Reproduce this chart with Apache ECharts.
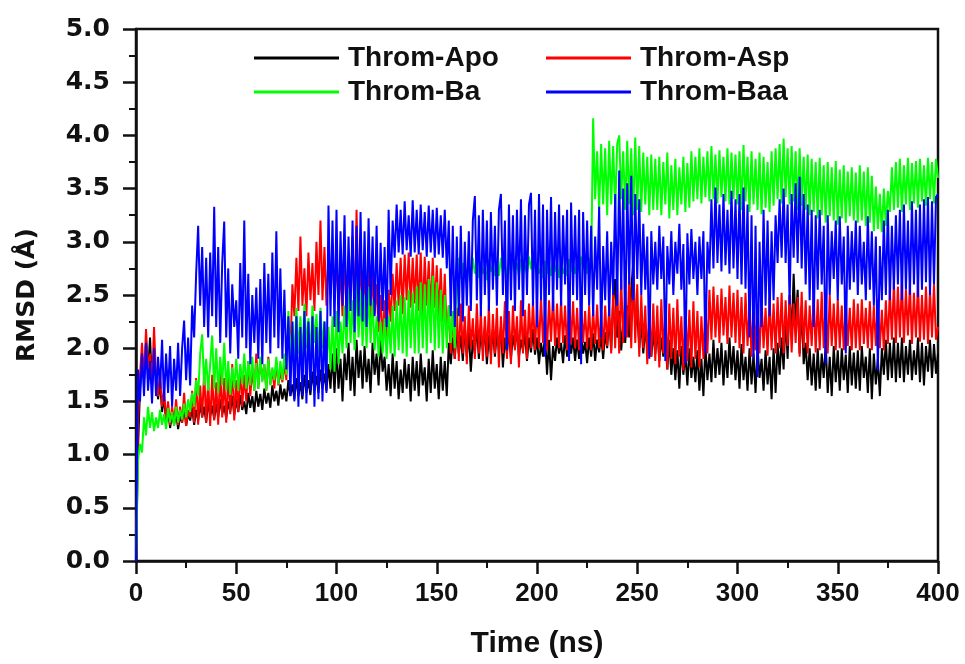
<!DOCTYPE html>
<html>
<head>
<meta charset="utf-8">
<script src="https://cdn.jsdelivr.net/npm/echarts@6/dist/echarts.min.js"></script>
<style>
  html, body { margin: 0; padding: 0; background: #fff; }
  #chart { width: 965px; height: 664px; }
</style>
</head>
<body>
<div id="chart"></div>
<script>
  // RMSD traces, one value per ns from 0 to 400 ns (20 values per row)
  var timeStep = 1;
  var seriesNames = ['Throm-Apo', 'Throm-Asp', 'Throm-Ba', 'Throm-Baa'];
  var seriesColors = ['#000000', '#ff0000', '#00ff00', '#0000ff'];

  var apo = [
    0.00, 1.05, 1.62, 1.90, 1.70, 2.05, 1.78, 2.10, 1.65, 1.95, 1.72, 1.52, 1.68, 1.40, 1.55, 1.30, 1.42, 1.25, 1.38, 1.28,
    1.40, 1.24, 1.36, 1.30, 1.45, 1.27, 1.38, 1.32, 1.44, 1.28, 1.42, 1.32, 1.48, 1.35, 1.45, 1.30, 1.50, 1.36, 1.46, 1.33,
    1.48, 1.35, 1.52, 1.38, 1.46, 1.34, 1.50, 1.40, 1.55, 1.37, 1.52, 1.40, 1.56, 1.42, 1.50, 1.38, 1.58, 1.44, 1.55, 1.40,
    1.60, 1.45, 1.57, 1.42, 1.62, 1.48, 1.58, 1.44, 1.65, 1.50, 1.60, 1.46, 1.66, 1.52, 1.62, 1.50, 1.70, 1.55, 1.66, 1.52,
    1.72, 1.55, 1.68, 1.52, 1.75, 1.58, 1.70, 1.56, 1.78, 1.60, 1.74, 1.58, 1.80, 1.62, 1.76, 1.60, 1.85, 1.62, 1.95, 1.58,
    2.00, 1.62, 1.90, 1.50, 1.95, 1.70, 2.05, 1.60, 1.92, 1.55, 2.08, 1.72, 1.98, 1.62, 2.02, 1.68, 1.90, 1.58, 2.05, 1.75,
    1.95, 1.65, 2.08, 1.78, 1.92, 1.60, 1.85, 1.55, 1.95, 1.62, 1.88, 1.52, 1.80, 1.58, 1.90, 1.62, 1.85, 1.50, 1.92, 1.60,
    1.88, 1.55, 1.95, 1.65, 1.82, 1.50, 1.90, 1.58, 1.98, 1.62, 1.85, 1.52, 1.92, 1.60, 1.88, 1.55, 2.05, 1.85, 2.10, 1.90,
    2.18, 1.95, 2.12, 1.88, 2.20, 1.92, 2.15, 1.78, 2.08, 1.95, 2.22, 1.90, 2.16, 1.98, 2.20, 1.85, 2.12, 1.95, 2.18, 1.92,
    2.15, 1.98, 2.20, 1.82, 2.10, 1.95, 2.18, 1.90, 2.12, 2.00, 2.20, 1.92, 2.08, 1.98, 2.15, 1.88, 2.10, 1.96, 2.18, 1.94,
    2.10, 1.85, 2.05, 1.92, 2.12, 1.75, 2.08, 1.70, 2.02, 1.88, 2.10, 1.95, 2.05, 1.86, 2.12, 1.92, 2.08, 1.95, 2.10, 1.88,
    2.08, 1.90, 2.12, 1.95, 2.06, 1.86, 2.10, 1.92, 2.14, 1.88, 2.08, 1.96, 2.12, 1.90, 2.15, 2.00, 2.30, 1.98, 2.45, 2.65,
    2.10, 2.35, 1.98, 2.25, 2.05, 2.40, 2.10, 2.55, 2.80, 2.20, 2.35, 2.00, 2.25, 1.95, 2.18, 2.00, 2.22, 1.92, 2.15, 1.95,
    2.18, 1.88, 2.10, 1.92, 2.05, 1.80, 2.08, 1.75, 2.00, 1.70, 1.98, 1.62, 2.02, 1.75, 1.95, 1.65, 2.00, 1.72, 1.92, 1.68,
    1.98, 1.60, 1.90, 1.55, 2.02, 1.70, 1.95, 1.68, 2.08, 1.72, 2.00, 1.75, 2.05, 1.65, 1.98, 1.72, 2.10, 1.75, 2.02, 1.70,
    1.98, 1.62, 2.04, 1.70, 1.92, 1.60, 2.00, 1.66, 1.95, 1.58, 2.02, 1.72, 1.90, 1.60, 1.98, 1.66, 1.92, 1.52, 2.00, 1.58,
    2.05, 1.75, 2.10, 1.80, 2.30, 1.90, 2.50, 2.10, 2.70, 2.20, 2.55, 1.95, 2.40, 1.85, 2.05, 1.70, 2.00, 1.65, 1.95, 1.60,
    2.00, 1.62, 1.95, 1.72, 2.04, 1.58, 1.92, 1.55, 2.02, 1.68, 1.98, 1.60, 2.00, 1.70, 1.94, 1.58, 2.02, 1.65, 1.96, 1.62,
    1.98, 1.60, 2.02, 1.72, 1.92, 1.58, 2.00, 1.52, 1.95, 1.66, 1.90, 1.55, 2.00, 1.75, 2.08, 1.70, 2.05, 1.72, 2.10, 1.68,
    2.05, 1.72, 2.10, 1.68, 2.02, 1.75, 2.08, 1.70, 1.98, 1.75, 2.10, 1.68, 2.05, 1.65, 2.02, 1.78, 2.08, 1.72, 2.04, 1.76,
    1.95
  ];

  var asp = [
    0.00, 1.30, 1.75, 2.05, 1.70, 2.18, 1.80, 1.95, 1.65, 2.20, 1.72, 1.55, 1.78, 1.45, 1.60, 1.32, 1.50, 1.28, 1.45, 1.30,
    1.52, 1.28, 1.45, 1.30, 1.58, 1.27, 1.42, 1.35, 1.60, 1.30, 1.72, 1.28, 1.65, 1.35, 1.78, 1.30, 1.70, 1.27, 1.75, 1.32,
    1.68, 1.28, 1.80, 1.35, 1.72, 1.30, 1.76, 1.38, 1.85, 1.32, 1.70, 1.40, 1.82, 1.45, 1.75, 1.50, 1.88, 1.55, 1.80, 1.60,
    1.95, 1.62, 1.90, 1.70, 1.85, 1.60, 1.92, 1.66, 1.80, 1.62, 1.88, 1.65, 1.78, 1.68, 1.85, 1.70, 2.20, 1.95, 2.60, 2.30,
    2.85, 2.35, 3.05, 2.40, 2.75, 2.30, 2.90, 2.45, 2.80, 2.35, 3.00, 2.50, 3.20, 2.45, 2.95, 2.40, 2.85, 2.50, 2.95, 2.45,
    2.85, 2.40, 2.75, 2.30, 2.90, 2.35, 2.80, 2.45, 3.05, 2.30, 3.30, 2.40, 2.85, 2.25, 2.75, 2.35, 2.80, 2.28, 2.70, 2.32,
    2.60, 2.15, 2.50, 2.05, 2.45, 2.10, 2.55, 2.25, 2.70, 2.35, 2.80, 2.40, 2.85, 2.32, 2.88, 2.45, 2.90, 2.38, 2.85, 2.42,
    2.88, 2.35, 2.90, 2.30, 2.86, 2.40, 2.82, 2.32, 2.85, 2.38, 2.78, 2.30, 2.75, 2.25, 2.70, 2.10, 2.40, 1.95, 2.35, 1.90,
    2.38, 1.88, 2.42, 1.95, 2.30, 1.85, 2.40, 2.00, 2.28, 1.90, 2.42, 1.95, 2.35, 1.88, 2.30, 1.92, 2.40, 1.85, 2.32, 1.95,
    2.38, 1.82, 2.30, 1.95, 2.44, 1.90, 2.35, 1.85, 2.40, 1.98, 2.30, 1.82, 2.45, 1.95, 2.36, 1.90, 2.42, 2.00, 2.45, 1.98,
    2.40, 2.00, 2.48, 2.05, 2.38, 1.98, 2.45, 2.06, 2.50, 2.02, 2.42, 2.00, 2.46, 2.05, 2.40, 1.98, 2.50, 2.04, 2.44, 2.00,
    2.38, 1.98, 2.41, 2.05, 2.35, 2.00, 2.40, 1.98, 2.36, 2.04, 2.41, 2.00, 2.34, 1.98, 2.40, 2.02, 2.38, 1.95, 2.55, 2.00,
    2.60, 1.95, 2.65, 2.05, 2.55, 2.10, 2.68, 2.00, 2.72, 2.05, 2.60, 1.92, 2.50, 2.00, 2.40, 1.85, 2.35, 1.92, 2.42, 1.88,
    2.40, 1.82, 2.46, 1.95, 2.35, 1.80, 2.42, 1.90, 2.38, 1.85, 2.46, 1.92, 2.30, 1.79, 2.40, 1.88, 2.36, 1.82, 2.44, 1.90,
    2.35, 1.82, 2.30, 1.90, 2.42, 1.95, 2.55, 2.08, 2.58, 2.10, 2.50, 2.05, 2.56, 2.12, 2.48, 2.04, 2.59, 2.10, 2.52, 2.05,
    2.55, 2.00, 2.48, 1.95, 2.52, 2.02, 2.40, 1.92, 2.50, 1.98, 2.35, 1.95, 2.45, 2.00, 2.38, 1.93, 2.48, 1.98, 2.42, 1.95,
    2.48, 2.00, 2.52, 1.95, 2.45, 2.02, 2.50, 1.96, 2.42, 2.05, 2.48, 1.92, 2.53, 2.00, 2.45, 1.95, 2.40, 2.02, 2.50, 1.96,
    2.46, 1.98, 2.53, 2.00, 2.45, 1.95, 2.50, 2.02, 2.42, 1.98, 2.46, 2.00, 2.40, 1.98, 2.44, 2.02, 2.38, 1.98, 2.46, 2.00,
    2.42, 1.98, 2.46, 2.04, 2.38, 2.00, 2.44, 1.98, 2.40, 2.02, 2.46, 2.00, 2.36, 1.98, 2.45, 2.04, 2.55, 2.08, 2.62, 2.05,
    2.58, 2.10, 2.65, 2.05, 2.55, 2.12, 2.60, 2.04, 2.52, 2.10, 2.62, 2.06, 2.50, 2.08, 2.58, 2.04, 2.55, 2.10, 2.60, 2.08,
    2.20
  ];

  var ba = [
    0.00, 0.95, 1.10, 1.02, 1.35, 1.18, 1.45, 1.25, 1.40, 1.22, 1.35, 1.25, 1.42, 1.28, 1.38, 1.24, 1.44, 1.30, 1.40, 1.27,
    1.45, 1.30, 1.42, 1.33, 1.48, 1.35, 1.52, 1.40, 1.58, 1.45, 1.70, 1.55, 1.95, 2.13, 1.65, 1.90, 1.60, 1.85, 2.12, 1.62,
    2.00, 1.58, 1.92, 1.65, 2.05, 1.60, 1.88, 1.56, 1.82, 1.62, 1.90, 1.60, 1.85, 1.66, 1.95, 1.62, 1.88, 1.65, 1.92, 1.60,
    1.86, 1.62, 1.92, 1.68, 1.85, 1.60, 1.90, 1.65, 1.82, 1.70, 1.92, 1.66, 1.88, 1.70, 1.95, 1.75, 2.35, 1.85, 2.25, 1.90,
    2.38, 1.95, 2.30, 1.88, 2.42, 2.00, 2.28, 1.92, 2.40, 2.05, 2.32, 1.95, 2.38, 2.00, 2.25, 1.85, 2.20, 1.80, 2.30, 1.78,
    2.35, 1.85, 2.25, 1.95, 2.40, 2.00, 2.55, 2.05, 2.45, 1.98, 2.70, 2.10, 2.55, 2.02, 2.50, 2.00, 2.58, 2.05, 2.45, 1.98,
    2.30, 1.92, 2.25, 1.95, 2.28, 1.90, 2.30, 1.95, 2.40, 1.92, 2.45, 1.98, 2.50, 1.95, 2.48, 1.92, 2.55, 2.00, 2.52, 1.95,
    2.58, 1.95, 2.62, 2.00, 2.60, 1.95, 2.65, 2.05, 2.68, 1.98, 2.62, 2.00, 2.55, 1.95, 2.50, 2.00, 2.40, 2.05, 2.35, 2.00,
    2.70, 2.85, 2.65, 2.80, 2.72, 2.60, 2.78, 2.68, 2.85, 2.70, 2.80, 2.66, 2.82, 2.70, 2.76, 2.64, 2.84, 2.72, 2.78, 2.68,
    2.80, 2.68, 2.85, 2.72, 2.78, 2.66, 2.82, 2.70, 2.88, 2.74, 2.80, 2.68, 2.84, 2.72, 2.78, 2.70, 2.86, 2.74, 2.90, 2.75,
    2.80, 2.70, 2.76, 2.66, 2.82, 2.70, 2.78, 2.68, 2.84, 2.72, 2.80, 2.66, 2.82, 2.70, 2.76, 2.68, 2.84, 2.72, 2.78, 2.70,
    2.82, 2.72, 2.86, 2.74, 2.80, 2.70, 2.85, 2.75, 4.16, 3.40, 3.85, 3.30, 3.92, 3.35, 3.88, 3.25, 3.95, 3.35, 3.90, 3.30,
    3.92, 4.00, 3.40, 3.85, 3.30, 3.95, 3.35, 3.88, 3.25, 3.98, 3.30, 3.90, 3.28, 3.84, 3.35, 3.80, 3.25, 3.82, 3.30, 3.78,
    3.30, 3.80, 3.25, 3.75, 3.35, 3.84, 3.22, 3.72, 3.30, 3.78, 3.25, 3.70, 3.35, 3.80, 3.28, 3.74, 3.32, 3.85, 3.38, 3.80,
    3.40, 3.88, 3.36, 3.80, 3.42, 3.85, 3.38, 3.90, 3.40, 3.82, 3.36, 3.86, 3.42, 3.80, 3.38, 3.88, 3.35, 3.84, 3.40, 3.82,
    3.35, 3.85, 3.30, 3.91, 3.38, 3.80, 3.28, 3.85, 3.35, 3.78, 3.30, 3.84, 3.26, 3.80, 3.32, 3.75, 3.28, 3.85, 3.34, 3.88,
    3.40, 3.92, 3.36, 3.97, 3.42, 3.88, 3.35, 3.90, 3.38, 3.85, 3.30, 3.88, 3.34, 3.80, 3.30, 3.82, 3.25, 3.78, 3.28, 3.75,
    3.22, 3.79, 3.25, 3.72, 3.18, 3.75, 3.24, 3.70, 3.20, 3.76, 3.16, 3.68, 3.22, 3.72, 3.18, 3.66, 3.24, 3.70, 3.20, 3.65,
    3.18, 3.72, 3.20, 3.66, 3.15, 3.70, 3.18, 3.62, 3.10, 3.52, 3.12, 3.45, 3.09, 3.50, 3.15, 3.48, 3.28, 3.70, 3.30, 3.75,
    3.32, 3.78, 3.28, 3.72, 3.35, 3.79, 3.30, 3.74, 3.36, 3.76, 3.32, 3.78, 3.38, 3.72, 3.34, 3.79, 3.40, 3.75, 3.36, 3.78,
    3.60
  ];

  var baa = [
    0.00, 1.80, 1.50, 1.95, 1.55, 2.05, 1.60, 1.88, 1.48, 2.00, 1.55, 1.92, 1.62, 2.08, 1.50, 1.95, 1.58, 2.02, 1.45, 1.90,
    1.60, 2.05, 1.55, 2.00, 2.26, 1.70, 2.10, 1.65, 2.40, 2.10, 2.70, 3.15, 2.40, 2.95, 2.20, 2.85, 2.10, 2.90, 2.30, 3.33,
    2.20, 2.95, 2.05, 2.80, 3.19, 2.10, 2.75, 1.95, 2.60, 2.20, 2.45, 1.90, 2.80, 2.10, 3.20, 2.00, 2.70, 1.85, 2.50, 2.05,
    2.57, 1.90, 2.65, 1.85, 2.80, 2.05, 2.70, 1.95, 2.90, 2.10, 3.10, 2.00, 2.75, 1.90, 2.55, 1.80, 2.30, 1.55, 2.25, 1.50,
    2.30, 1.45, 2.20, 1.55, 2.35, 1.48, 2.25, 1.60, 2.30, 1.45, 2.20, 1.52, 2.35, 1.50, 2.25, 1.58, 3.34, 2.30, 3.20, 2.20,
    3.30, 2.15, 3.10, 2.40, 3.25, 2.20, 3.05, 2.35, 3.20, 2.15, 3.15, 2.30, 3.28, 2.25, 3.10, 2.20, 3.22, 2.40, 3.05, 2.30,
    3.15, 2.25, 2.99, 2.35, 2.95, 2.20, 3.30, 2.50, 3.20, 2.85, 3.35, 2.90, 3.30, 2.88, 3.38, 2.92, 3.25, 2.86, 3.39, 2.90,
    3.30, 2.88, 3.35, 2.92, 3.28, 2.86, 3.34, 2.90, 3.30, 2.85, 3.32, 2.88, 3.25, 2.85, 3.30, 2.75, 3.20, 2.30, 3.15, 2.20,
    3.05, 2.30, 3.15, 2.25, 3.00, 2.40, 3.10, 2.35, 3.20, 3.43, 2.45, 3.25, 2.30, 3.30, 2.50, 3.20, 2.35, 3.28, 2.55, 3.15,
    2.40, 3.30, 3.45, 2.50, 3.20, 1.98, 3.35, 2.45, 3.25, 2.35, 3.30, 2.55, 3.40, 2.30, 3.25, 2.50, 3.35, 3.46, 2.40, 3.30,
    2.20, 3.45, 2.45, 3.35, 1.92, 3.30, 2.50, 3.42, 2.35, 3.28, 2.55, 3.35, 2.40, 3.25, 2.60, 3.30, 1.88, 3.37, 2.50, 3.25,
    2.45, 3.30, 1.85, 3.28, 2.50, 3.20, 2.40, 3.15, 2.30, 3.05, 2.55, 3.33, 2.10, 2.96, 2.45, 3.10, 2.30, 3.00, 2.50, 3.45,
    2.40, 3.67, 2.55, 3.50, 2.10, 3.55, 2.60, 3.62, 2.45, 3.45, 2.65, 3.40, 2.50, 3.17, 2.55, 3.05, 1.90, 3.10, 2.60, 3.00,
    2.55, 3.15, 2.65, 3.05, 1.88, 2.96, 2.60, 3.10, 2.50, 3.00, 2.70, 3.17, 2.55, 2.98, 1.85, 3.08, 2.60, 3.12, 2.65, 3.00,
    2.50, 3.05, 2.65, 3.10, 1.95, 3.00, 2.70, 3.40, 2.75, 3.51, 2.80, 3.35, 2.72, 3.45, 2.78, 3.30, 2.70, 3.48, 2.75, 3.40,
    2.65, 3.45, 2.60, 3.51, 2.56, 3.35, 2.10, 3.25, 1.90, 3.15, 1.73, 3.00, 2.20, 3.30, 2.40, 3.20, 2.30, 3.10, 2.45, 3.25,
    2.80, 3.40, 2.85, 3.50, 2.80, 3.35, 2.41, 3.45, 2.85, 3.55, 2.80, 3.61, 2.75, 3.45, 2.60, 3.35, 2.45, 3.30, 2.20, 3.25,
    2.55, 3.30, 2.60, 3.15, 1.85, 3.25, 2.50, 3.10, 2.65, 3.20, 2.45, 3.24, 2.60, 3.05, 1.95, 3.15, 2.55, 3.10, 2.62, 3.20,
    2.50, 3.15, 2.60, 3.00, 2.45, 3.24, 2.55, 3.10, 2.40, 3.05, 1.79, 2.96, 2.45, 3.20, 2.50, 3.30, 2.45, 3.15, 2.55, 3.25,
    2.60, 3.30, 2.45, 3.35, 2.55, 3.20, 2.50, 3.38, 2.60, 3.30, 2.48, 3.35, 2.55, 3.40, 2.62, 3.42, 2.50, 3.38, 2.60, 3.42,
    3.45
  ];

  var xTicks = [0, 50, 100, 150, 200, 250, 300, 350, 400];
  var yTicks = [0, 0.5, 1.0, 1.5, 2.0, 2.5, 3.0, 3.5, 4.0, 4.5, 5.0];

  function toPoints(values) {
    return values.map(function(v, i) {
      return [i * timeStep, v];
    });
  }

  var allValues = [apo, asp, ba, baa];

  var series = allValues.map(function(values, k) {
    return {
      name: seriesNames[k],
      type: 'line',
      data: toPoints(values),
      symbol: 'none',
      lineStyle: { width: 2, color: seriesColors[k], join: 'miter', miterLimit: 2 },
      itemStyle: { color: seriesColors[k] },
      animation: false
    };
  });

  // one legend per entry so the two-column layout can be placed exactly
  var legendSpots = [[254, 43], [546, 43], [254, 77], [546, 77]];
  var legends = seriesNames.map(function(name, k) {
    return {
      data: [name],
      left: legendSpots[k][0],
      top: legendSpots[k][1],
      padding: 0,
      icon: 'rect',
      itemWidth: 85,
      itemHeight: 3,
      selectedMode: false,
      textStyle: {
        fontFamily: 'Liberation Sans',
        fontWeight: 'bold',
        fontSize: 28,
        color: '#111',
        lineHeight: 30,
        padding: [0, 0, 0, 4]
      }
    };
  });

  var option = {
    backgroundColor: '#ffffff',
    animation: false,
    legend: legends,
    grid: {
      left: 136,
      right: 27,
      top: 29,
      bottom: 93,
      show: true,
      borderColor: '#111',
      borderWidth: 2.5
    },
    xAxis: {
      type: 'value',
      min: xTicks[0],
      max: xTicks[xTicks.length - 1],
      interval: 50,
      name: 'Time (ns)',
      nameLocation: 'middle',
      nameGap: 68,
      nameTextStyle: {
        fontFamily: 'Liberation Sans',
        fontWeight: 'bold',
        fontSize: 30,
        color: '#111'
      },
      axisLine: { lineStyle: { color: '#111', width: 2.5 } },
      axisTick: { length: 13, lineStyle: { color: '#111', width: 2.5 } },
      minorTick: { show: true, splitNumber: 2, length: 7, lineStyle: { color: '#111', width: 2 } },
      splitLine: { show: false },
      axisLabel: {
        margin: 20,
        fontFamily: 'Liberation Sans',
        fontWeight: 'bold',
        fontSize: 26,
        color: '#111'
      }
    },
    yAxis: {
      type: 'value',
      min: yTicks[0],
      max: yTicks[yTicks.length - 1],
      interval: 0.5,
      name: 'RMSD (Å)',
      nameLocation: 'middle',
      nameGap: 96,
      nameRotate: 90,
      nameTextStyle: {
        fontFamily: 'DejaVu Sans',
        fontWeight: 'bold',
        fontSize: 25,
        color: '#111'
      },
      axisLine: { show: true, lineStyle: { color: '#111', width: 2.5 } },
      axisTick: { show: true, length: 13, lineStyle: { color: '#111', width: 2.5 } },
      minorTick: { show: true, splitNumber: 2, length: 7, lineStyle: { color: '#111', width: 2 } },
      splitLine: { show: false },
      axisLabel: {
        margin: 26,
        fontFamily: 'DejaVu Sans',
        fontWeight: 'bold',
        fontSize: 25,
        color: '#111',
        formatter: function(v) { return v.toFixed(1); }
      }
    },
    series: series
  };

  echarts.init(document.getElementById('chart')).setOption(option);
</script>
</body>
</html>
